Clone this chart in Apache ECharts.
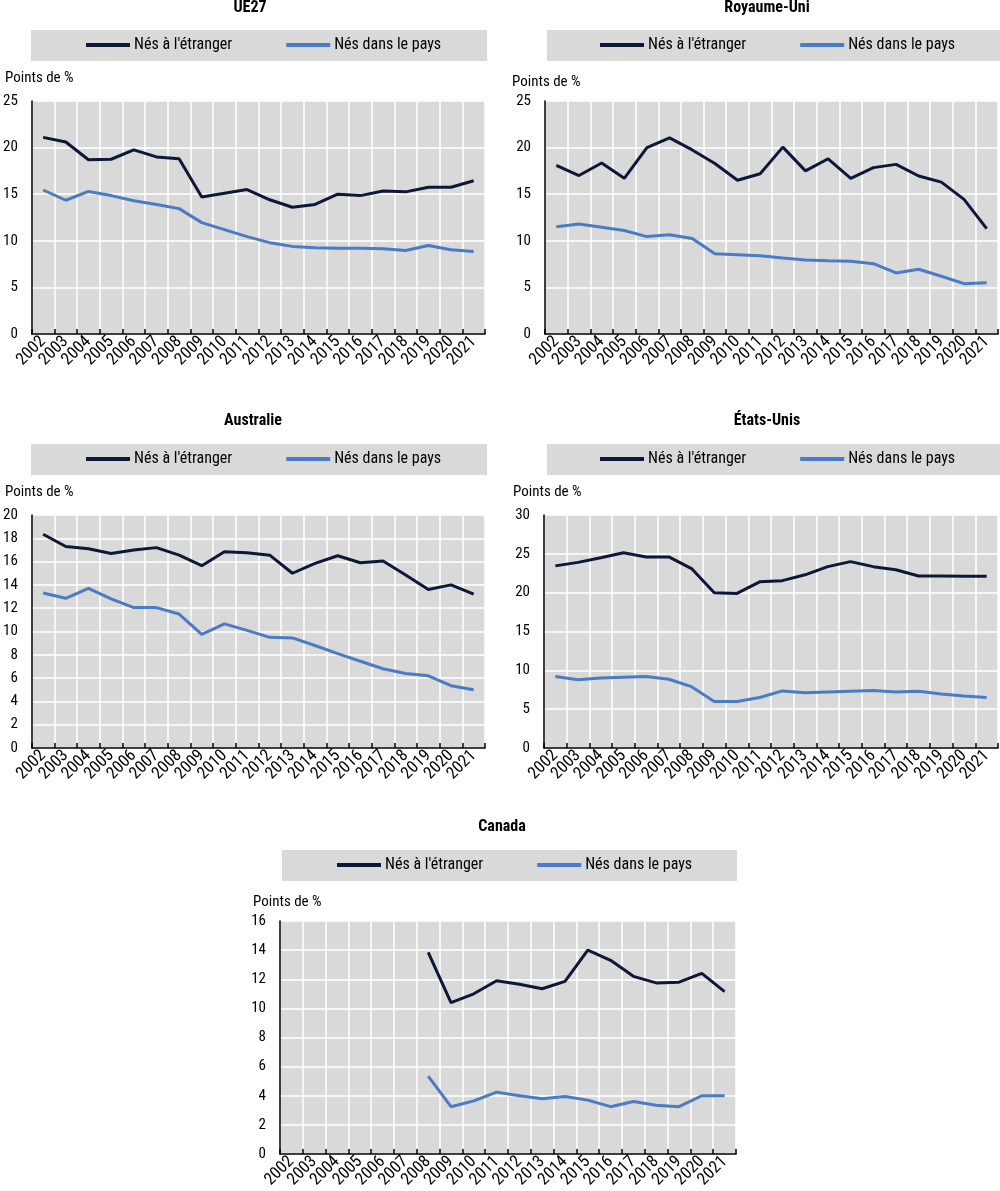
<!DOCTYPE html>
<html>
<head>
<meta charset="utf-8">
<script src="https://cdn.jsdelivr.net/npm/echarts@6/dist/echarts.min.js"></script>
<style>
html,body{margin:0;padding:0;background:#fff;}
#c{width:1000px;height:1191px;}
</style>
</head>
<body>
<div id="c"></div>
<script>
const years = ['2002','2003','2004','2005','2006','2007','2008','2009','2010','2011','2012','2013','2014','2015','2016','2017','2018','2019','2020','2021'];
const seriesNames = ["Nés à l'étranger", 'Nés dans le pays'];
const panelTitles = ['UE27', 'Royaume-Uni', 'Australie', 'États-Unis', 'Canada'];
const unitLabel = 'Points de %';

const ue27Foreign = [21.1,20.6,18.7,18.75,19.75,19.0,18.8,14.7,15.1,15.5,14.4,13.6,13.9,15.0,14.85,15.35,15.25,15.75,15.75,16.45];
const ue27Native  = [15.45,14.35,15.3,14.85,14.3,13.9,13.45,11.95,11.2,10.45,9.8,9.4,9.25,9.2,9.2,9.15,8.95,9.5,9.05,8.85];
const ukForeign   = [18.1,17.0,18.35,16.7,20.0,21.05,19.75,18.3,16.5,17.2,20.05,17.5,18.8,16.7,17.85,18.2,16.95,16.3,14.45,11.3];
const ukNative    = [11.5,11.8,11.45,11.1,10.45,10.65,10.25,8.6,8.5,8.4,8.15,7.95,7.85,7.8,7.55,6.55,6.95,6.2,5.4,5.5];
const auForeign   = [18.35,17.3,17.1,16.7,17.0,17.2,16.55,15.65,16.85,16.75,16.55,15.0,15.85,16.5,15.9,16.05,14.85,13.6,14.0,13.2];
const auNative    = [13.3,12.85,13.7,12.8,12.05,12.05,11.5,9.75,10.65,10.1,9.5,9.45,8.8,8.1,7.45,6.8,6.4,6.2,5.35,5.0];
const usForeign   = [23.45,23.9,24.5,25.15,24.6,24.6,23.1,20.0,19.9,21.4,21.55,22.3,23.35,24.0,23.35,22.95,22.15,22.15,22.1,22.1];
const usNative    = [9.2,8.8,9.0,9.1,9.2,8.85,7.9,6.0,6.0,6.5,7.35,7.1,7.2,7.3,7.4,7.2,7.3,6.95,6.7,6.5];
const caForeign   = [null,null,null,null,null,null,13.85,10.4,11.0,11.9,11.65,11.35,11.85,14.0,13.3,12.2,11.75,11.8,12.4,11.15];
const caNative    = [null,null,null,null,null,null,5.35,3.25,3.65,4.25,4.0,3.8,3.95,3.7,3.25,3.6,3.35,3.25,4.0,4.0];

const yMax = [25, 25, 20, 30, 16];
const yInterval = [5, 5, 2, 5, 2];
const panelData = [
  [ue27Foreign, ue27Native],
  [ukForeign, ukNative],
  [auForeign, auNative],
  [usForeign, usNative],
  [caForeign, caNative]
];

const FONT = "'Liberation Sans Narrow','Arial Narrow','Roboto Condensed','Liberation Sans',Arial,sans-serif";
const colors = ['#0d1838', '#4a7bc6'];

// layout
const grids = [
  {left: 30, top: 101, width: 455, height: 233},
  {left: 545, top: 101, width: 453, height: 233},
  {left: 30, top: 515, width: 455, height: 233},
  {left: 544, top: 515, width: 454, height: 233},
  {left: 280, top: 921, width: 456, height: 233}
];
const titlePos = [[250, 0], [767, 0], [253, 413], [767, 413], [502, 819]];
const legendBox = [[31, 30, 456, 31], [547, 30, 453, 31], [31, 444, 456, 31], [547, 444, 453, 31], [282, 850, 455, 31]];
const legendLeft = [86, 600, 86, 600, 337];
const unitPos = [[5, 78], [512, 82], [5, 492], [513, 492], [253, 902]];

const option = {
  animation: false,
  backgroundColor: '#ffffff',
  textStyle: {fontFamily: FONT},
  title: [], legend: [], grid: [], xAxis: [], yAxis: [], series: [], graphic: []
};

for (let i = 0; i < 5; i++) {
  option.title.push({
    text: panelTitles[i], left: titlePos[i][0], top: titlePos[i][1],
    textAlign: 'center', padding: 0,
    textStyle: {fontFamily: FONT, fontWeight: 'bold', fontSize: 16, color: '#000'}
  });
  option.graphic.push({
    type: 'rect', silent: true, z: -1,
    shape: {x: legendBox[i][0], y: legendBox[i][1], width: legendBox[i][2], height: legendBox[i][3]},
    style: {fill: '#d9d9d9'}
  });
  option.graphic.push({
    type: 'text', silent: true,
    x: unitPos[i][0], y: unitPos[i][1],
    style: {text: unitLabel, font: '15px ' + FONT, fill: '#000', verticalAlign: 'middle'}
  });
  option.legend.push({
    data: seriesNames, left: legendLeft[i], top: legendBox[i][1] + 7,
    padding: 0, itemGap: 54, itemWidth: 44, itemHeight: 4, icon: 'rect',
    textStyle: {fontFamily: FONT, fontSize: 16, color: '#000', padding: [0, 0, 0, -1]}
  });
  option.grid.push(Object.assign({
    show: true, backgroundColor: '#d9d9d9', borderWidth: 0, containLabel: false
  }, grids[i]));
  option.xAxis.push({
    type: 'category', gridIndex: i, data: years, boundaryGap: true,
    axisLine: {show: true, lineStyle: {color: '#000', width: 1.5}},
    axisTick: {show: true, inside: true, length: 5, lineStyle: {color: '#000', width: 1.5}},
    splitLine: {show: true, lineStyle: {color: '#ffffff', width: 1.5}},
    axisLabel: {rotate: 45, fontSize: 17, color: '#000', margin: 5, interval: 0, fontFamily: FONT}
  });
  option.yAxis.push({
    type: 'value', gridIndex: i, min: 0, max: yMax[i], interval: yInterval[i],
    axisLine: {show: true, lineStyle: {color: '#000', width: 1.5}},
    axisTick: {show: false},
    splitLine: {show: true, lineStyle: {color: '#ffffff', width: 1.5}},
    axisLabel: {fontSize: 15, color: '#000', margin: 14, fontFamily: FONT}
  });
  for (let s = 0; s < 2; s++) {
    option.series.push({
      type: 'line', name: seriesNames[s], xAxisIndex: i, yAxisIndex: i,
      data: panelData[i][s], symbol: 'none', connectNulls: false,
      lineStyle: {color: colors[s], width: 3}, itemStyle: {color: colors[s]},
      z: s === 0 ? 3 : 2
    });
  }
}

const chart = echarts.init(document.getElementById('c'), null, {renderer: 'canvas'});
chart.setOption(option);
</script>
</body>
</html>
